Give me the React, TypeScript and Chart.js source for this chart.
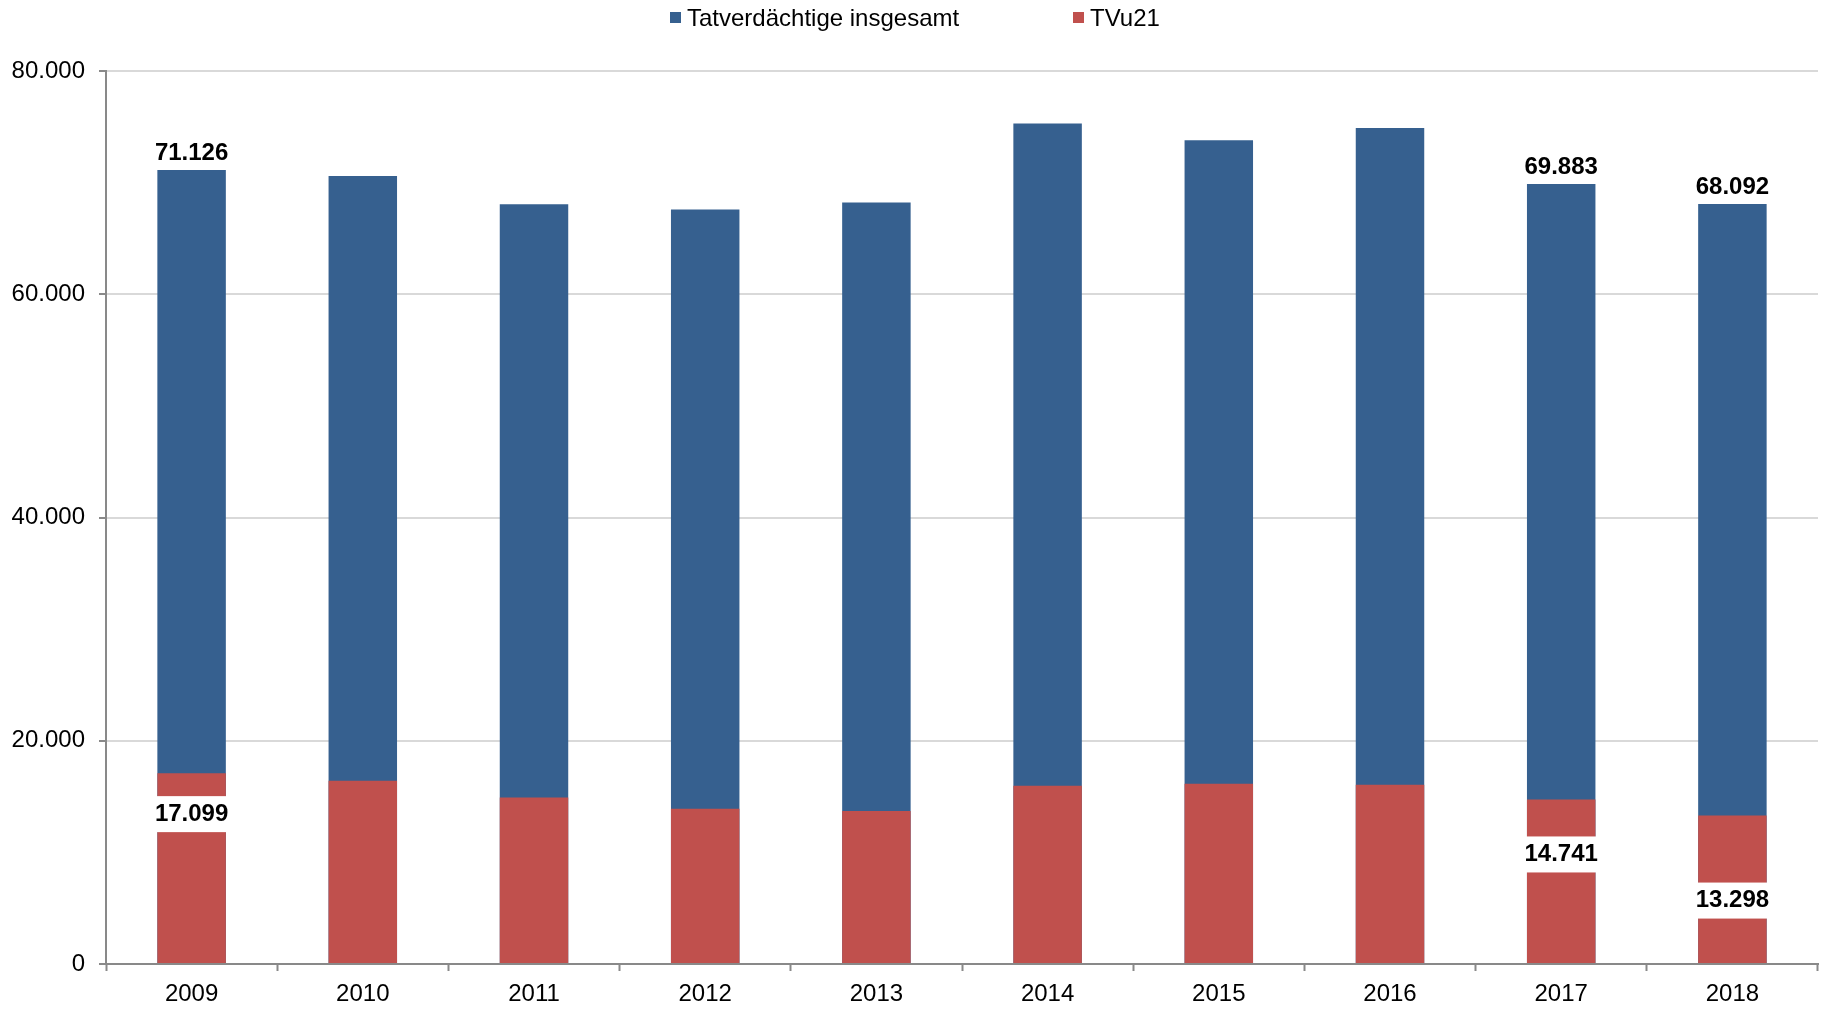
import React, { useEffect, useRef } from 'react';
import { Chart, registerables } from 'chart.js';

Chart.register(...registerables);

// ---- Data ----
const years = ['2009', '2010', '2011', '2012', '2013', '2014', '2015', '2016', '2017', '2018'];
const totalSuspects = [71126, 70600, 68070, 67590, 68220, 75290, 73800, 74900, 69883, 68092];
const under21 = [17099, 16410, 14920, 13900, 13700, 15960, 16140, 16050, 14741, 13298];
const seriesNames = ['Tatverdächtige insgesamt', 'TVu21'];
const labeledYears = ['2009', '2017', '2018'];
const yMax = 80000;
const yStep = 20000;

// ---- Styles ----
const BLUE = '#36608f';
const RED = '#c0504d';
const FONT = '"Liberation Sans", Arial, Helvetica, sans-serif';
const AXIS_GREY = '#898989';
const GRID_GREY = '#d9d9d9';
// vertical offset (px) of the red label centre below the red bar top, per labelled year
const redLabelOffsets: Record<string, number> = { '2009': 41, '2017': 55, '2018': 85 };

function fmt(n: number): string {
  return String(Math.round(n)).replace(/\B(?=(\d{3})+(?!\d))/g, '.');
}

const labelPlugin = {
  id: 'customLabels',
  afterDatasetsDraw(chart: any) {
    const ctx = chart.ctx;
    ctx.save();
    ctx.font = `bold 24px ${FONT}`;
    ctx.textAlign = 'center';
    ctx.textBaseline = 'middle';
    const blueMeta = chart.getDatasetMeta(0);
    const redMeta = chart.getDatasetMeta(1);
    labeledYears.forEach((yr) => {
      const i = years.indexOf(yr);
      if (i < 0) return;
      const b = blueMeta.data[i];
      ctx.fillStyle = '#000';
      ctx.fillText(fmt(totalSuspects[i]), b.x, b.y - 17);
      const r = redMeta.data[i];
      const txt = fmt(under21[i]);
      const tw = ctx.measureText(txt).width;
      const w = Math.max(r.width, tw + 4);
      const cy = r.y + (redLabelOffsets[yr] || 30);
      ctx.fillStyle = '#ffffff';
      ctx.fillRect(r.x - w / 2, cy - 18, w, 36);
      ctx.fillStyle = '#000';
      ctx.fillText(txt, r.x, cy);
    });
    ctx.restore();
  },
};

const legendPlugin = {
  id: 'customLegend',
  afterDraw(chart: any) {
    const ctx = chart.ctx;
    ctx.save();
    ctx.font = `24px ${FONT}`;
    ctx.textAlign = 'left';
    ctx.textBaseline = 'alphabetic';
    const items = [
      { x: 670, color: BLUE, text: seriesNames[0] },
      { x: 1073, color: RED, text: seriesNames[1] },
    ];
    items.forEach((it) => {
      ctx.fillStyle = it.color;
      ctx.fillRect(it.x, 12, 11, 11);
      ctx.fillStyle = '#000';
      ctx.fillText(it.text, it.x + 17, 26);
    });
    ctx.restore();
  },
};

export default function App() {
  const ref = useRef<HTMLCanvasElement | null>(null);
  useEffect(() => {
    document.body.style.margin = '0';
    const canvas = ref.current;
    if (!canvas) return;
    const chart = new Chart(canvas, {
      type: 'bar',
      data: {
        labels: years,
        datasets: [
          {
            label: seriesNames[0],
            data: totalSuspects,
            backgroundColor: BLUE,
            borderWidth: 0,
            grouped: false,
            barPercentage: 0.4,
            categoryPercentage: 1,
            order: 1,
          } as any,
          {
            label: seriesNames[1],
            data: under21,
            backgroundColor: RED,
            borderWidth: 0,
            grouped: false,
            barPercentage: 0.4,
            categoryPercentage: 1,
            order: 0,
          } as any,
        ],
      },
      options: {
        responsive: false,
        animation: false,
        devicePixelRatio: 1,
        layout: { padding: { top: 71, right: 7, left: 0, bottom: 0 } },
        plugins: {
          legend: { display: false },
          tooltip: { enabled: false },
        },
        scales: {
          x: {
            offset: true,
            grid: {
              offset: true,
              drawOnChartArea: false,
              drawTicks: true,
              tickLength: 7,
              tickColor: AXIS_GREY,
              tickWidth: 2,
            },
            border: { color: AXIS_GREY, width: 2 },
            ticks: {
              color: '#000',
              font: { family: FONT, size: 24 },
              padding: 9,
              maxRotation: 0,
            },
            afterFit: (s: any) => {
              s.height = 45;
            },
          },
          y: {
            min: 0,
            max: yMax,
            ticks: {
              stepSize: yStep,
              color: '#000',
              font: { family: FONT, size: 24 },
              padding: 14,
              callback: (v: any) => fmt(Number(v)),
            },
            grid: {
              color: GRID_GREY,
              lineWidth: 2,
              tickLength: 7,
              tickColor: AXIS_GREY,
              tickWidth: 2,
            },
            border: { color: AXIS_GREY, width: 2 },
            afterFit: (s: any) => {
              s.width = 106;
            },
          },
        },
      },
      plugins: [labelPlugin, legendPlugin],
    });
    return () => chart.destroy();
  }, []);
  return (
    <div style={{ width: 1825, height: 1009 }}>
      <canvas ref={ref} width={1825} height={1009} style={{ display: 'block' }} />
    </div>
  );
}
